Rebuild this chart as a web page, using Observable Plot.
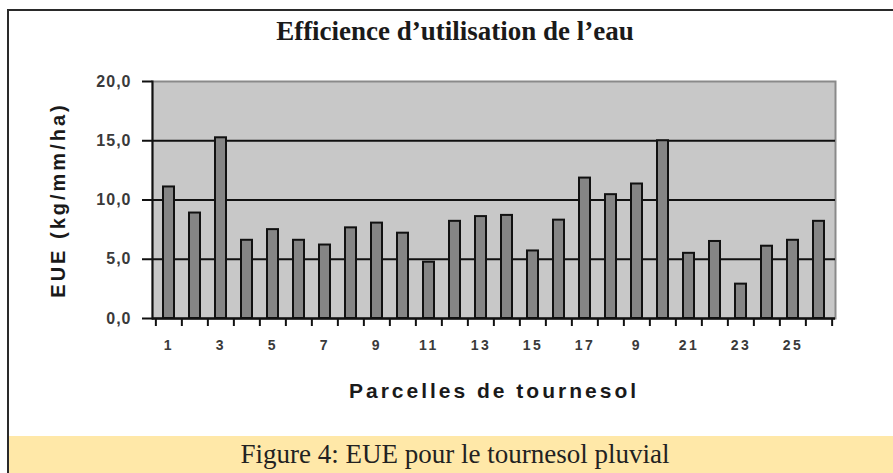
<!DOCTYPE html>
<html><head><meta charset="utf-8">
<script src="https://cdn.jsdelivr.net/npm/d3@7"></script>
<script src="https://cdn.jsdelivr.net/npm/@observablehq/plot@0.6"></script>
<style>
body{margin:0;background:#fff;}
#wrap{position:relative;width:893px;height:473px;overflow:hidden;background:#fff;}
#bl{position:absolute;left:7px;top:9px;width:2px;height:464px;background:#2a2a2a;}
#bt{position:absolute;left:7px;top:9px;width:886px;height:2px;background:#2a2a2a;}
#title{position:absolute;left:0;width:910px;top:16px;line-height:30px;text-align:center;font:bold 27px "Liberation Serif",serif;color:#1a1a1a;z-index:2;}
#chart{position:absolute;left:0;top:0;}
#caption{position:absolute;left:9px;top:436px;width:892px;height:37px;background:#FFE8A8;text-align:center;font:27px "Liberation Serif",serif;line-height:37px;color:#222;}
</style>
</head>
<body>
<div id="wrap">
  <div id="chart"></div>
  <div id="title">Efficience d’utilisation de l’eau</div>
  <div id="caption">Figure 4: EUE pour le tournesol pluvial</div>
  <div id="bl"></div>
  <div id="bt"></div>
</div>
<script>
const parcelles = [1,2,3,4,5,6,7,8,9,10,11,12,13,14,15,16,17,18,19,20,21,22,23,24,25,26];
const eue = [11.1, 8.9, 15.25, 6.6, 7.5, 6.6, 6.2, 7.65, 8.05, 7.2, 4.75, 8.2, 8.6, 8.7, 5.7, 8.3, 11.85, 10.45, 11.35, 15.0, 5.5, 6.5, 2.9, 6.1, 6.6, 8.2];
const xTickValues = [1,3,5,7,9,11,13,15,17,19,21,23,25];
const xTickLabels = ["1","3","5","7","9","11","13","15","17","9","21","23","25"];
const yTicks = [0,5,10,15,20];
const yLabel = "EUE (kg/mm/ha)";
const xLabel = "Parcelles de tournesol";

const data = parcelles.map((p, i) => ({parcelle: p, eue: eue[i]}));

const W = 893, H = 436, ML = 152, MR = 58, MT = 81, MB = 118;
const step = (W - ML - MR) / parcelles.length;

const chart = Plot.plot({
  width: W, height: H,
  marginLeft: ML, marginRight: MR, marginTop: MT, marginBottom: MB,
  style: {fontFamily: "'Liberation Sans', Arial, sans-serif", background: "transparent", color: "#111"},
  x: {type: "band", domain: parcelles, paddingInner: 0.58, paddingOuter: 0.29},
  y: {domain: [0, 20]},
  marks: [
    Plot.frame({fill: "#c8c8c8", stroke: "#8a8a8a", strokeWidth: 2}),
    Plot.ruleY([5, 10, 15], {stroke: "#111", strokeWidth: 2}),
    Plot.barY(data, {x: "parcelle", y: "eue", fill: "#858585", stroke: "#111", strokeWidth: 2}),
    Plot.ruleY([0], {stroke: "#111", strokeWidth: 2.5}),
    Plot.frame({anchor: "left", stroke: "#111", strokeWidth: 2}),
    Plot.axisY({ticks: yTicks, tickSize: 10, tickPadding: 11, strokeWidth: 2,
      tickFormat: d => d.toFixed(1).replace(".", ","), fontSize: 16, fontWeight: "bold", label: null}),
    Plot.axisX({ticks: xTickValues, tickSize: 0, tickPadding: 22, fontSize: 14, fontWeight: "bold",
      tickFormat: d => xTickLabels[xTickValues.indexOf(d)], label: null}),
    Plot.axisX({tickSize: 8, strokeWidth: 2, tickFormat: () => "", dx: -step / 2, label: null}),
    Plot.axisX({ticks: [26], tickSize: 8, strokeWidth: 2, tickFormat: () => "", dx: step / 2, label: null}),
    Plot.text([xLabel], {frameAnchor: "bottom", dy: 79, lineAnchor: "bottom", fontSize: 21, fontWeight: "bold", fill: "#1a1a1a"}),
    Plot.text([yLabel], {frameAnchor: "left", dx: -94, rotate: -90, lineAnchor: "middle", textAnchor: "middle", fontSize: 20, fontWeight: "bold", fill: "#1a1a1a"})
  ]
});
document.getElementById("chart").appendChild(chart);
const svg = d3.select(chart);
svg.selectAll("g[aria-label='y-axis tick label'] text").attr("fill", "#3a3a3a").style("letter-spacing", "1px");
svg.selectAll("g[aria-label='x-axis tick label'] text").attr("fill", "#3a3a3a").style("letter-spacing", "2.5px");
svg.selectAll("g[aria-label='text'] text").style("letter-spacing", "3px");
</script>
</body></html>
